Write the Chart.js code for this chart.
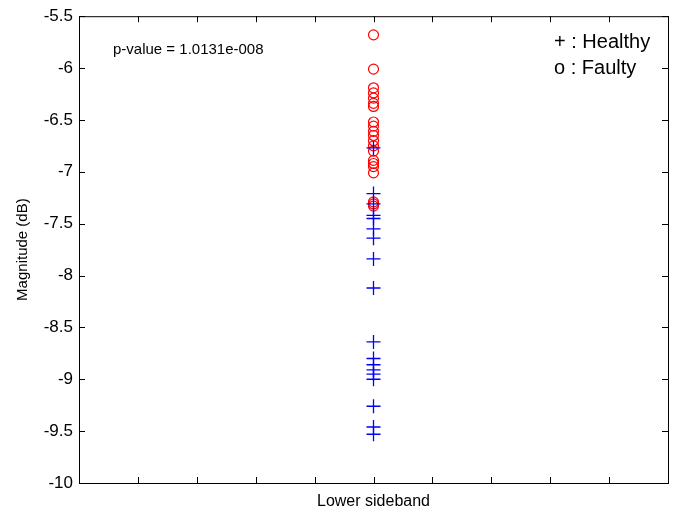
<!DOCTYPE html>
<html>
<head>
<meta charset="utf-8">
<script src="https://cdn.jsdelivr.net/npm/chart.js@4.4.1/dist/chart.umd.min.js"></script>
<style>
  html, body { margin: 0; padding: 0; background: #fff; }
  #wrap { width: 678px; height: 511px; }
</style>
</head>
<body>
<div id="wrap"><canvas id="chart" width="678" height="511"></canvas></div>
<script>
// ---- data (Magnitude in dB, all at the single "Lower sideband" position) ----
const groupX = 1;
const healthyDb = [-6.77, -7.21, -7.31, -7.42, -7.45, -7.55, -7.64, -7.84, -8.12,
                   -8.64, -8.80, -8.86, -8.91, -8.95, -9.00, -9.26, -9.46, -9.53];
const faultyDb  = [-5.68, -6.01, -6.19, -6.24, -6.29, -6.34, -6.37, -6.52, -6.56, -6.61,
                   -6.65, -6.70, -6.75, -6.80, -6.89, -6.92, -6.95, -7.01, -7.29, -7.31, -7.33];
const yTicks = [-10, -9.5, -9, -8.5, -8, -7.5, -7, -6.5, -6, -5.5];
const xTicks = [0, 0.2, 0.4, 0.6, 0.8, 1, 1.2, 1.4, 1.6, 1.8, 2];
const pValueText = 'p-value = 1.0131e-008';
const legendLines = ['+ : Healthy', 'o : Faulty'];

const FAMILY = '"Liberation Sans", Arial, sans-serif';

// MATLAB-style box with inward ticks on all four sides
const boxPlugin = {
  id: 'box',
  afterDraw(chart) {
    const { ctx, chartArea: a, scales } = chart;
    ctx.save();
    ctx.strokeStyle = '#000';
    ctx.lineWidth = 1;
    ctx.strokeRect(a.left + 0.5, a.top + 0.5, a.right - a.left, a.bottom - a.top);
    const tl = 6;
    ctx.beginPath();
    yTicks.forEach(v => {
      const y = Math.round(scales.y.getPixelForValue(v)) + 0.5;
      ctx.moveTo(a.left, y); ctx.lineTo(a.left + tl, y);
      ctx.moveTo(a.right, y); ctx.lineTo(a.right - tl, y);
    });
    xTicks.forEach(v => {
      const x = Math.round(scales.x.getPixelForValue(v)) + 0.5;
      ctx.moveTo(x, a.bottom); ctx.lineTo(x, a.bottom - tl);
      ctx.moveTo(x, a.top); ctx.lineTo(x, a.top + tl);
    });
    ctx.stroke();

    // annotations
    ctx.fillStyle = '#000';
    ctx.textBaseline = 'middle';
    ctx.textAlign = 'left';
    ctx.font = `15px ${FAMILY}`;
    ctx.fillText(pValueText, 113, 50);
    ctx.font = `20px ${FAMILY}`;
    legendLines.forEach((t, i) => ctx.fillText(t, 554, 42 + i * 26));
    ctx.restore();
  }
};

new Chart(document.getElementById('chart'), {
  type: 'scatter',
  data: {
    datasets: [
      {
        label: 'Healthy',
        data: healthyDb.map(v => ({ x: groupX, y: v })),
        pointStyle: 'cross',
        pointRadius: 7,
        borderColor: '#0000ff',
        backgroundColor: '#0000ff',
        pointBorderWidth: 1.3,
      },
      {
        label: 'Faulty',
        data: faultyDb.map(v => ({ x: groupX, y: v })),
        pointStyle: 'circle',
        pointRadius: 5,
        borderColor: '#ff0000',
        backgroundColor: 'transparent',
        pointBorderWidth: 1.2,
      }
    ]
  },
  options: {
    responsive: false,
    animation: false,
    layout: { padding: { top: 15, right: 10, left: 0, bottom: 0 } },
    plugins: { legend: { display: false }, tooltip: { enabled: false } },
    scales: {
      x: {
        type: 'linear', min: 0, max: 2,
        grid: { display: false, drawTicks: false },
        border: { display: false },
        ticks: { display: false, stepSize: 0.2 },
        title: { display: true, text: 'Lower sideband', color: '#000', font: { family: FAMILY, size: 16 }, padding: { top: 4, bottom: 0 } },
        afterFit: s => { s.height = 28; }
      },
      y: {
        type: 'linear', min: -10, max: -5.5,
        grid: { display: false, drawTicks: false },
        border: { display: false },
        ticks: { stepSize: 0.5, color: '#000', font: { family: FAMILY, size: 17 }, padding: 6, callback: v => String(v) },
        title: { display: true, text: 'Magnitude (dB)', color: '#000', font: { family: FAMILY, size: 15 }, padding: { top: 14, bottom: 0 } },
        afterFit: s => { s.width = 79; }
      }
    }
  },
  plugins: [boxPlugin]
});
</script>
</body>
</html>
